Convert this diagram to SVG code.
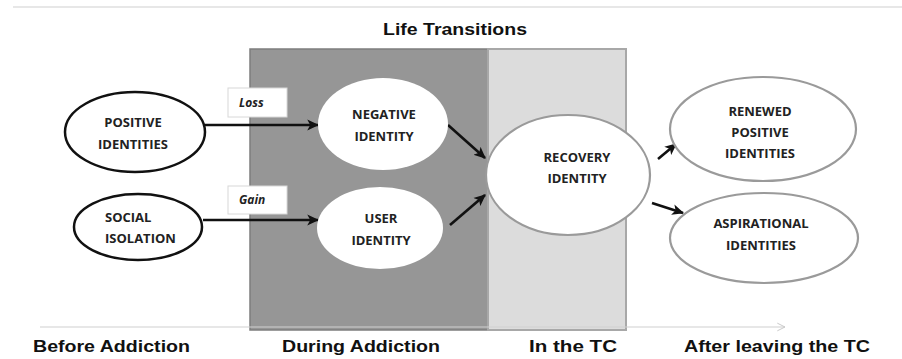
<svg xmlns="http://www.w3.org/2000/svg" width="902" height="359" viewBox="0 0 902 359">
<style>
.lbl{font-family:"Liberation Sans",Arial,sans-serif;font-weight:bold;font-size:17px;fill:#111;}
.nt{font-family:"Open Sans","Noto Sans",sans-serif;font-weight:bold;font-size:13px;fill:#222;text-anchor:middle;}
.bx{font-family:"Open Sans","Noto Sans",sans-serif;font-weight:bold;font-style:italic;font-size:12px;fill:#222;}
.blk{fill:#fff;stroke:#111;stroke-width:2.5;}
.gry{fill:#fff;stroke:#9a9a9a;stroke-width:2.2;}
.wht{fill:#fff;stroke:#d8d8d8;stroke-width:1;}
.con{stroke:#111;stroke-width:2.6;fill:none;marker-end:url(#ah);}
</style>
<defs>
<marker id="ah" viewBox="0 0 10 10" refX="9" refY="5" markerWidth="4.6" markerHeight="4.6" orient="auto" markerUnits="strokeWidth">
<path d="M0,0.5 L10,5 L0,9.5 L2.5,5 Z" fill="#111"/>
</marker>
<marker id="ahg" viewBox="0 0 10 10" refX="9" refY="5" markerWidth="8" markerHeight="8" orient="auto" markerUnits="strokeWidth">
<path d="M1,1 L9,5 L1,9" fill="none" stroke="#c8c8c8" stroke-width="1"/>
</marker>
</defs>
<rect width="902" height="359" fill="#fff"/>
<line x1="13" y1="7" x2="902" y2="7" stroke="#d0d0d0" stroke-width="1.2"/>
<text class="lbl" x="455" y="35" text-anchor="middle" textLength="144" lengthAdjust="spacingAndGlyphs">Life Transitions</text>
<g id="phases">
<rect x="250" y="49" width="238" height="281" fill="#969696" stroke="#7d7d7d" stroke-width="1.5"/>
<rect x="488" y="49" width="138" height="281" fill="#dcdcdc" stroke="#a8a8a8" stroke-width="2"/>
</g>
<line x1="40" y1="327" x2="785" y2="327" stroke="#cfcfcf" stroke-width="1.2" marker-end="url(#ahg)"/>
<g id="timeline-labels">
<text class="lbl" x="33" y="352" textLength="157" lengthAdjust="spacingAndGlyphs">Before Addiction</text>
<text class="lbl" x="282" y="352" textLength="158" lengthAdjust="spacingAndGlyphs">During Addiction</text>
<text class="lbl" x="529" y="352" textLength="88" lengthAdjust="spacingAndGlyphs">In the TC</text>
<text class="lbl" x="684" y="352" textLength="186" lengthAdjust="spacingAndGlyphs">After leaving the TC</text>
</g>
<g id="connectors">
<line class="con" x1="205" y1="125" x2="318" y2="125"/>
<line class="con" x1="203" y1="220" x2="318" y2="220"/>
<line class="con" x1="448" y1="125" x2="485" y2="158"/>
<line class="con" x1="450" y1="225" x2="485" y2="195"/>
<line class="con" x1="658" y1="159" x2="676" y2="144"/>
<line class="con" x1="652" y1="203" x2="683" y2="213"/>
</g>
<g id="loss">
<rect class="wht" x="228" y="88" width="59" height="29"/>
<text class="bx" x="239" y="107">Loss</text>
</g>
<g id="gain">
<rect class="wht" x="228" y="186" width="59" height="28"/>
<text class="bx" x="239" y="204">Gain</text>
</g>
<g id="positive-identities">
<ellipse class="blk" cx="135" cy="132" rx="70" ry="40"/>
<text class="nt" x="133" y="127">POSITIVE</text>
<text class="nt" x="133" y="149">IDENTITIES</text>
</g>
<g id="social-isolation">
<ellipse class="blk" cx="138" cy="227" rx="64" ry="33"/>
<text class="nt" x="105" y="222" style="text-anchor:start">SOCIAL</text>
<text class="nt" x="105" y="243" style="text-anchor:start">ISOLATION</text>
</g>
<g id="negative-identity">
<ellipse cx="383" cy="124" rx="65" ry="46" fill="#fff"/>
<text class="nt" x="384" y="119">NEGATIVE</text>
<text class="nt" x="384" y="141">IDENTITY</text>
</g>
<g id="user-identity">
<ellipse cx="380" cy="228" rx="63" ry="41" fill="#fff"/>
<text class="nt" x="381" y="223">USER</text>
<text class="nt" x="381" y="245">IDENTITY</text>
</g>
<g id="recovery-identity">
<ellipse class="gry" cx="568" cy="175" rx="82" ry="60"/>
<text class="nt" x="577" y="162">RECOVERY</text>
<text class="nt" x="577" y="183">IDENTITY</text>
</g>
<g id="renewed-positive-identities">
<ellipse class="gry" cx="763" cy="129" rx="93" ry="52"/>
<text class="nt" x="760" y="116">RENEWED</text>
<text class="nt" x="760" y="137">POSITIVE</text>
<text class="nt" x="760" y="158">IDENTITIES</text>
</g>
<g id="aspirational-identities">
<ellipse class="gry" cx="764" cy="238" rx="94" ry="45"/>
<text class="nt" x="761" y="228">ASPIRATIONAL</text>
<text class="nt" x="761" y="250">IDENTITIES</text>
</g>
</svg>
